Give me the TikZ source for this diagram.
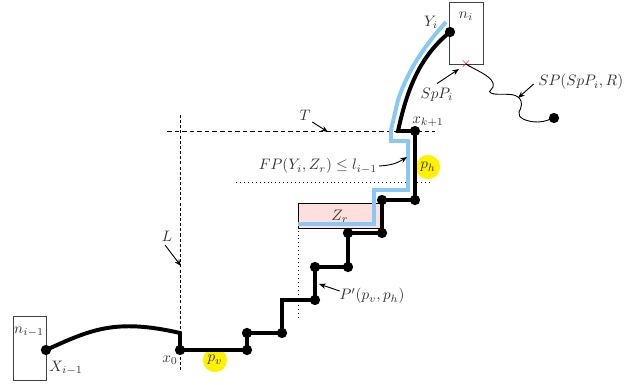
\documentclass[tikz,border=0pt]{standalone}
\usetikzlibrary{arrows.meta}
\definecolor{skyb}{RGB}{135,200,245}
\definecolor{pinkf}{RGB}{255,222,222}
\begin{document}
\begin{tikzpicture}[x=0.66pt,y=-0.66pt,
  dot/.style={circle,fill=black,inner sep=0pt,minimum size=6.8pt},
  pathline/.style={line width=2.6pt,line join=miter},
  blueline/.style={line width=2.6pt,skyb},
  boxn/.style={draw=black!75,line width=0.6pt},
  lbl/.style={inner sep=1pt,black!80},
  hl/.style={circle,fill=yellow,inner sep=0pt,minimum size=16pt},
  vdash/.style={line width=0.6pt,dash pattern=on 2pt off 1.4pt},
  hdash/.style={line width=0.6pt,dash pattern=on 3pt off 2pt},
  arr/.style={-{Stealth[length=4.5pt,width=3.5pt]},line width=0.6pt}]
\useasboundingbox (0,0) rectangle (626,385);
% boxes
\draw[boxn] (13,316) rectangle (46,380);
\node[lbl] (nim1) at (29,332) {$n_{i-1}$};
\draw[boxn] (449,2) rectangle (483,64);
\node[lbl] (ni) at (466,16) {$n_i$};
% Z_r box
\draw[fill=pinkf,line width=0.6pt] (298,203) rectangle (382,228);
\node[lbl] (zr) at (340,216) {$Z_r$};
% dashed/dotted guides
\draw[vdash] (180,115) -- (180,370);
\draw[hdash] (167,131) -- (435,131);
\draw[dotted,line width=0.6pt] (236,182) -- (432,182);
\draw[dotted,line width=0.6pt] (298,203) -- (298,318);
% highlights
\node[hl] (pv) at (215,360) {};
\node[lbl] at (pv) {$p_v$};
\node[hl] (ph) at (428,167) {};
\node[lbl] at (ph) {$p_h$};
% blue path
\draw[blueline] (446,22) .. controls (425,45) and (408,70) .. (398,100) -- (391,130) -- (391,141) -- (408,141) -- (408,190) -- (374,190) -- (374,224) -- (298,224);
% dots
\node[dot] (X) at (46,350) {};
\node[dot] (x0) at (180,350) {};
\node[dot] (a1) at (247,350) {};
\node[dot] (a2) at (247,333) {};
\node[dot] (a3) at (282,333) {};
\node[dot] (a4) at (315,300) {};
\node[dot] (a5) at (315,267) {};
\node[dot] (a6) at (348,267) {};
\node[dot] (a7) at (348,233) {};
\node[dot] (a8) at (382,233) {};
\node[dot] (a9) at (382,200) {};
\node[dot] (a10) at (415,200) {};
\node[dot] (xk) at (415,131) {};
\node[dot] (Y) at (450,32) {};
\node[dot] (R) at (554,118) {};
\coordinate (c0) at (180,333);
\coordinate (c1) at (282,300);
\coordinate (c2) at (398,131);
% black path
\draw[pathline] (X.center) .. controls (90,330) and (115,318) .. (c0) -- (x0.center) -- (a1.center) -- (a2.center) -- (a3.center) |- (c1) -- (a4.center) -- (a5.center) -- (a6.center) -- (a7.center) -- (a8.center) -- (a9.center) -- (a10.center) -- (xk.center) -- (c2) .. controls (405,100) and (415,60) .. (Y.center);
% red cross
\node[red,inner sep=0pt,font=\small] (sp) at (466,64) {$\times$};
% wavy SP
\draw[line width=0.6pt] (sp.center) .. controls (475,70) and (490,75) .. (493,83)
  .. controls (495,90) and (486,91) .. (491,93)
  .. controls (496,96) and (512,92) .. (518,97)
  .. controls (524,102) and (521,108) .. (519,112)
  .. controls (517,118) and (527,122) .. (538,122)
  .. controls (545,122) and (550,119) .. (R.center);
% labels
\node[lbl] (Yl) at (431,22) {$Y_i$};
\node[lbl] (xkl) at (428,122) {$x_{k+1}$};
\node[lbl] (Xl) at (66,368) {$X_{i-1}$};
\node[lbl] (x0l) at (170,360) {$x_0$};
\node[lbl] (Tl) at (305,115) {$T$};
\node[lbl] (Ll) at (167,236) {$L$};
\node[lbl] (spl) at (437,95) {$SpP_i$};
\node[lbl,anchor=east] (SPl) at (625,82) {$SP(SpP_i,R)$};
\node[lbl] (FPl) at (318,166) {$FP(Y_i,Z_r)\leq l_{i-1}$};
\node[lbl] (Pl) at (372,296) {$P'(p_v,p_h)$};
\coordinate (Tt) at (328,132);
\coordinate (Lt) at (181,266);
\coordinate (spt) at (459,69);
\coordinate (SPt) at (518,98);
\coordinate (FPt) at (407,157);
\coordinate (Pt) at (319,284);
% arrows
\draw[arr] (Tl.south east) -- (Tt);
\draw[arr] (Ll.south) ++(-2,2) -- (Lt);
\draw[arr] (spl.north) ++(0,-3) -- (spt);
\draw[arr] (SPl.west) ++(-3,2) -- (SPt);
\draw[arr] (FPl.east) to[bend right=15] (FPt);
\draw[arr] (Pl.west) ++(2,-5) -- (Pt);
\end{tikzpicture}
\end{document}
